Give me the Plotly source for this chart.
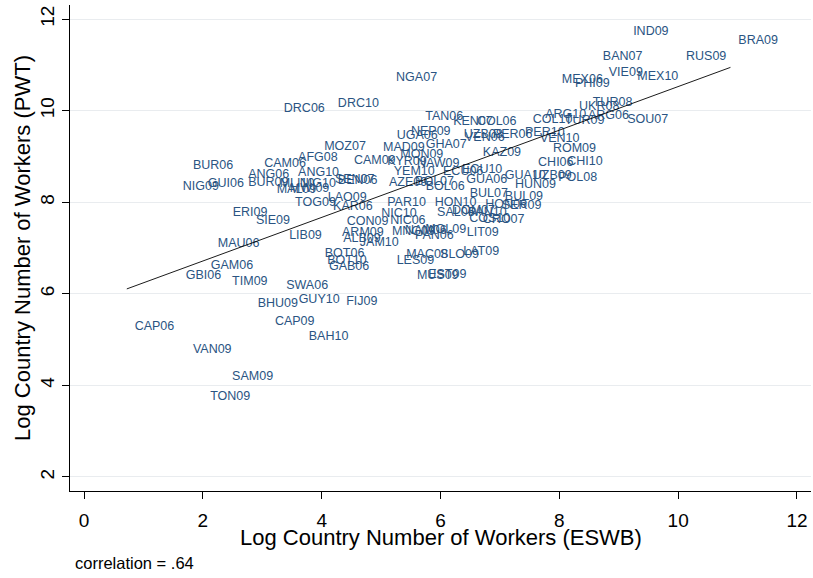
import numpy as np
import plotly.graph_objects as go

labels = ["CAP06","VAN09","SAM09","TON09","BHU09","GUY10","CAP09","BAH10","SWA06","FIJ09",
          "TIM09","GAM06","GBI06","MAU06","ERI09","SIE09","LIB09","BUR06","CAM06","AFG08",
          "ANG06","ANG10","NIG09","GUI06","BUR09","MLI10","MAL09","MWI09","NIG10","SEN07",
          "BEN06","TOG09","LAO09","KAR06","MOZ07","CON09","NIC06","NIC10","ARM09","ALB09",
          "JAM10","BOT06","BOT10","GAB06","DRC06","DRC10","NGA07","TAN06","NEP09","UGA06",
          "MAD09","GHA07","MON09","CAM09","KYR09","NAW09","YEM10","ECU06","ECU10","AZE09",
          "BOL07","BOL06","GUA06","PAR10","BUL07","BUL09","HON10","HON06","SER09","SAL06",
          "DOM07","PAN10","COS10","CRO07","LIT09","LAT09","SLO09","MAC08","LES09","MUS09",
          "EST09","MNG09","NAM06","MOL09","PAN06","KEN07","COL06","UZB08","VEN06","PER06",
          "PER10","VEN10","ROM09","KAZ09","CHI06","CHI10","GUA10","UZB09","POL08","HUN09",
          "ARG10","COL10","TUR09","ARG06","UKR08","TUR08","MEX06","PHI09","VIE09","MEX10",
          "BAN07","RUS09","IND09","BRA09","SOU07"]

eswb = [0.72,1.70,2.36,1.99,2.79,3.48,3.08,3.65,3.27,4.28,
        2.36,2.00,1.58,2.12,2.37,2.76,3.32,1.70,2.90,3.47,
        2.63,3.47,1.53,1.95,2.63,3.16,3.11,3.33,3.50,4.09,
        4.14,3.42,3.97,4.06,3.91,4.29,5.02,4.87,4.21,4.23,
        4.51,3.92,3.96,3.99,3.23,4.14,5.12,5.61,5.37,5.13,
        4.90,5.62,5.19,4.41,4.97,5.47,5.08,5.91,6.23,5.00,
        5.44,5.62,6.30,4.97,6.36,6.95,5.77,6.62,6.90,5.81,
        6.06,6.33,6.35,6.58,6.31,6.25,5.86,5.29,5.13,5.47,
        5.66,5.05,5.27,5.61,5.44,6.08,6.48,6.26,6.28,6.75,
        7.29,7.54,7.76,6.58,7.51,8.00,6.95,7.42,7.85,7.12,
        7.63,7.42,7.96,8.35,8.20,8.43,7.91,8.13,8.70,9.18,
        8.60,10.00,9.11,10.88,9.01]

pwt = [5.27,4.77,4.18,3.76,5.77,5.86,5.38,5.07,6.18,5.83,
       6.27,6.60,6.40,7.10,7.77,7.60,7.27,8.80,8.84,8.97,
       8.60,8.64,8.34,8.41,8.43,8.41,8.27,8.30,8.41,8.49,
       8.47,7.99,8.10,7.90,9.21,7.58,7.60,7.75,7.32,7.21,
       7.12,6.88,6.71,6.58,10.04,10.15,10.71,9.86,9.54,9.45,
       9.19,9.25,9.04,8.91,8.88,8.84,8.67,8.67,8.71,8.43,
       8.45,8.34,8.49,7.99,8.19,8.12,7.99,7.95,7.93,7.77,
       7.80,7.77,7.64,7.62,7.34,6.92,6.84,6.86,6.71,6.40,
       6.42,7.36,7.38,7.40,7.27,9.76,9.76,9.47,9.41,9.47,
       9.52,9.39,9.17,9.08,8.86,8.88,8.58,8.58,8.54,8.38,
       9.91,9.80,9.78,9.89,10.08,10.17,10.67,10.58,10.82,10.74,
       11.17,11.17,11.72,11.52,9.80]

x_ticks = [0, 2, 4, 6, 8, 10, 12]
y_ticks = [2, 4, 6, 8, 10, 12]

x = np.array(eswb)
y = np.array(pwt)
slope, intercept = np.polyfit(x, y, 1)
xfit = np.array([x.min(), x.max()])
yfit = intercept + slope * xfit

label_color = "#2a5482"
font_family = "Liberation Sans, Arial, sans-serif"

fig = go.Figure()
fig.add_trace(go.Scatter(
    x=eswb, y=pwt, text=labels, mode="markers+text",
    marker=dict(size=11, color="rgba(0,0,0,0)"),
    textposition="middle right",
    textfont=dict(size=12.5, color=label_color, family=font_family),
    cliponaxis=False, hoverinfo="text", showlegend=False))
fig.add_trace(go.Scatter(
    x=xfit, y=yfit, mode="lines",
    line=dict(color="black", width=0.9), showlegend=False, hoverinfo="skip"))

fig.update_layout(
    width=813, height=578,
    margin=dict(l=70, r=2, t=5, b=87),
    paper_bgcolor="white", plot_bgcolor="white",
    font=dict(family=font_family, color="black"),
    xaxis=dict(range=[-0.236, 12.236], tickvals=x_ticks, ticks="outside", ticklen=7,
               tickwidth=1.2, tickcolor="black", showline=True, linecolor="black",
               linewidth=1.3, showgrid=False, zeroline=False, automargin=False,
               ticklabelstandoff=5,
               tickfont=dict(size=19, color="black")),
    yaxis=dict(range=[1.694, 12.306], tickvals=y_ticks, ticks="outside", ticklen=7,
               tickwidth=1.2, tickcolor="black", showline=True, linecolor="black",
               linewidth=1.3, showgrid=True, gridcolor="#e9ecef", gridwidth=1,
               zeroline=False, tickangle=-90, automargin=False,
               tickfont=dict(size=19, color="black"),
               title=dict(text="Log Country Number of Workers (PWT)",
                          font=dict(size=22, color="black"), standoff=0)),
    annotations=[
        dict(text="Log Country Number of Workers (ESWB)", xref="paper", yref="paper",
             x=0.5, y=-0.0947, xanchor="center", yanchor="middle", showarrow=False,
             font=dict(size=22, color="black")),
        dict(text="correlation = .64", xref="paper", yref="paper",
             x=0.004, y=-0.148, xanchor="left", yanchor="middle",
             showarrow=False, font=dict(size=16.5, color="black"))],
)

fig.write_html("out.html", post_script="document.body.style.margin='0px';",
               config={"displayModeBar": False})
